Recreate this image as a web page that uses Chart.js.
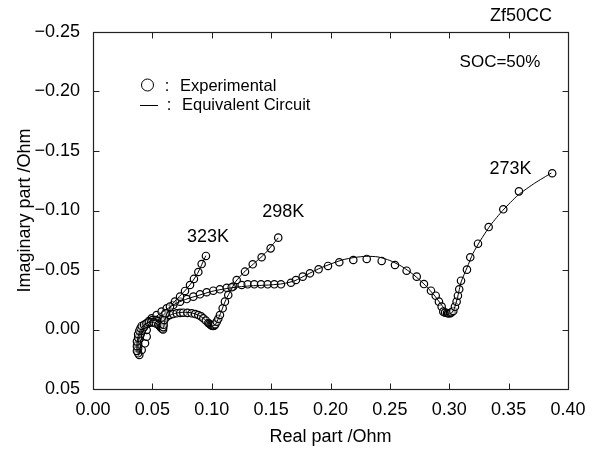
<!DOCTYPE html>
<html><head><meta charset="utf-8">
<script src="https://cdn.jsdelivr.net/npm/chart.js@4.4.1/dist/chart.umd.min.js"></script>
<style>html,body{margin:0;padding:0;background:#fff;}</style>
</head><body>
<canvas id="c" width="599" height="450"></canvas>
<script>
// ---- data (Real part, Imaginary part) in Ohm ----
const exp323 = [[0.037,0.018],[0.037,0.014],[0.037,0.010],[0.038,0.007],[0.038,0.004],[0.039,0.001],[0.040,-0.001],[0.041,-0.003],[0.043,-0.004],[0.045,-0.005],[0.047,-0.006],[0.049,-0.006],[0.051,-0.006],[0.053,-0.005],[0.055,-0.004],[0.056,-0.003],[0.057,-0.002],[0.0575,-0.0015],[0.058,-0.001],[0.0585,-0.0005],[0.059,0.000],[0.0592,-0.002],[0.0595,-0.004],[0.060,-0.008],[0.061,-0.0136],[0.0648,-0.0192],[0.069,-0.0235],[0.0733,-0.0276],[0.0775,-0.0324],[0.0817,-0.0374],[0.085,-0.0425],[0.0887,-0.0483],[0.0915,-0.055],[0.0951,-0.0618]];
const exp298 = [[0.038,0.020],[0.038,0.016],[0.038,0.012],[0.039,0.008],[0.040,0.004],[0.041,0.001],[0.043,-0.002],[0.045,-0.005],[0.047,-0.007],[0.050,-0.008],[0.053,-0.008],[0.055,-0.007],[0.057,-0.006],[0.058,-0.0055],[0.0595,-0.007],[0.0606,-0.0094],[0.0625,-0.011],[0.0648,-0.0122],[0.0675,-0.013],[0.0705,-0.0136],[0.0735,-0.014],[0.076,-0.0141],[0.0795,-0.014],[0.0831,-0.0136],[0.086,-0.013],[0.0887,-0.0122],[0.091,-0.011],[0.0929,-0.0094],[0.095,-0.0075],[0.0971,-0.0055],[0.098,-0.0048],[0.099,-0.004],[0.0998,-0.0035],[0.1005,-0.0032],[0.1013,-0.003],[0.102,-0.0032],[0.1025,-0.0038],[0.103,-0.0045],[0.1042,-0.0066],[0.1055,-0.009],[0.1069,-0.0122],[0.1092,-0.0178],[0.1111,-0.0234],[0.1139,-0.029],[0.1168,-0.0355],[0.121,-0.0416],[0.128,-0.0486],[0.1345,-0.0548],[0.142,-0.0607],[0.1496,-0.0682],[0.156,-0.0772]];
const exp273 = [[0.039,0.0214],[0.041,0.0172],[0.0438,0.0116],[0.0452,0.006],[0.0452,0.0004],[0.0466,-0.0052],[0.0494,-0.0094],[0.0536,-0.0122],[0.0578,-0.015],[0.0621,-0.0178],[0.0676,-0.0206],[0.0733,-0.0234],[0.0789,-0.0256],[0.0845,-0.0276],[0.0901,-0.0296],[0.0957,-0.0313],[0.1013,-0.0326],[0.1069,-0.0338],[0.1126,-0.0351],[0.1181,-0.0361],[0.1252,-0.0374],[0.1303,-0.038],[0.1358,-0.038],[0.1415,-0.038],[0.1471,-0.038],[0.1527,-0.038],[0.1583,-0.038],[0.1667,-0.0393],[0.1709,-0.0416],[0.1766,-0.0444],[0.1827,-0.0472],[0.19,-0.0506],[0.1979,-0.0534],[0.2074,-0.0565],[0.2192,-0.0584],[0.2305,-0.0593],[0.2431,-0.0576],[0.2543,-0.0542],[0.2641,-0.0494],[0.2726,-0.0444],[0.2787,-0.0382],[0.2846,-0.0326],[0.2886,-0.0284],[0.2913,-0.0234],[0.2936,-0.0192],[0.295,-0.015],[0.2965,-0.0142],[0.2981,-0.0139],[0.299,-0.0137],[0.2995,-0.0136],[0.3006,-0.0136],[0.3012,-0.014],[0.302,-0.0145],[0.3034,-0.0156],[0.3048,-0.0192],[0.3062,-0.0234],[0.3073,-0.0284],[0.3084,-0.0338],[0.3099,-0.041],[0.3149,-0.0503],[0.3177,-0.0607],[0.3242,-0.0721],[0.3332,-0.0861],[0.3455,-0.101],[0.3587,-0.1161],[0.3867,-0.1313]];
const fit323 = [[0.037,0.019],[0.037,0.012],[0.038,0.006],[0.040,0.000],[0.043,-0.004],[0.047,-0.006],[0.051,-0.006],[0.055,-0.004],[0.058,-0.001],[0.0595,-0.002],[0.061,-0.010],[0.065,-0.019],[0.070,-0.025],[0.076,-0.031],[0.082,-0.038],[0.088,-0.047],[0.095,-0.062]];
const fit298 = [[0.038,0.021],[0.038,0.012],[0.039,0.006],[0.041,0.001],[0.044,-0.004],[0.048,-0.007],[0.052,-0.008],[0.056,-0.007],[0.059,-0.007],[0.062,-0.010],[0.066,-0.0125],[0.071,-0.014],[0.077,-0.0145],[0.083,-0.014],[0.089,-0.012],[0.094,-0.0085],[0.098,-0.005],[0.101,-0.003],[0.103,-0.004],[0.105,-0.008],[0.108,-0.015],[0.111,-0.023],[0.115,-0.031],[0.120,-0.040],[0.127,-0.048],[0.135,-0.055],[0.145,-0.064],[0.156,-0.077]];
const fit273 = [[0.0385,0.022],[0.040,0.014],[0.042,0.008],[0.044,0.002],[0.047,-0.004],[0.051,-0.009],[0.056,-0.013],[0.062,-0.017],[0.070,-0.022],[0.080,-0.026],[0.090,-0.029],[0.100,-0.032],[0.110,-0.034],[0.120,-0.0355],[0.130,-0.0365],[0.140,-0.037],[0.150,-0.0375],[0.160,-0.0385],[0.170,-0.041],[0.180,-0.046],[0.190,-0.051],[0.200,-0.055],[0.210,-0.0585],[0.220,-0.0605],[0.230,-0.0615],[0.240,-0.061],[0.250,-0.058],[0.260,-0.053],[0.270,-0.046],[0.280,-0.037],[0.288,-0.028],[0.294,-0.020],[0.298,-0.015],[0.301,-0.013],[0.304,-0.017],[0.307,-0.027],[0.310,-0.040],[0.315,-0.052],[0.320,-0.064],[0.327,-0.076],[0.335,-0.088],[0.345,-0.100],[0.358,-0.113],[0.372,-0.123],[0.386,-0.1315]];
const seriesNames = ['323K','298K','273K'];
const seriesLabelAt = [[0.0968,-0.078],[0.1603,-0.0988],[0.3515,-0.135]];
const xTickLabels = ['0.00','0.05','0.10','0.15','0.20','0.25','0.30','0.35','0.40'];
const yTickLabels = ['\u22120.25','\u22120.20','\u22120.15','\u22120.10','\u22120.05','0.00','0.05'];
const xTitle = 'Real part /Ohm';
const yTitle = 'Imaginary part /Ohm';
const legendTexts = ['Experimental','Equivalent Circuit'];
const cornerTexts = ['Zf50CC','SOC=50%'];

const FONT = '"Liberation Sans", Arial, sans-serif';
const INK = '#000';
const toPts = a => a.map(p => ({x:p[0], y:p[1]}));

const expSets = [exp323, exp298, exp273].map((d,i) => ({
  label: seriesNames[i] + ' exp', data: toPts(d), showLine:false, order:2,
  pointRadius:3.7, pointBorderWidth:1.2, pointBorderColor:INK, pointBackgroundColor:'rgba(255,255,255,0.5)', pointStyle:'circle'
}));
const fitSets = [fit323, fit298, fit273].map((d,i) => ({
  label: seriesNames[i] + ' fit', data: toPts(d), showLine:true, order:1,
  pointRadius:0, borderColor:INK, borderWidth:1, tension:0.2, fill:false
}));

const decor = {
  id:'decor',
  afterDraw(chart){
    const {ctx, chartArea:a, scales:{x,y}} = chart;
    ctx.save();
    ctx.strokeStyle = '#222'; ctx.lineWidth = 1.2;
    const L=Math.round(a.left)+0.5, R=Math.round(a.right)+0.5, T=Math.round(a.top)+0.5, B=Math.round(a.bottom)+0.5;
    ctx.strokeRect(L, T, R-L, B-T);
    ctx.lineWidth = 1;
    ctx.beginPath();
    x.ticks.forEach(t => { const px = Math.round(x.getPixelForValue(t.value))+0.5;
      ctx.moveTo(px,B); ctx.lineTo(px,B-6); ctx.moveTo(px,T); ctx.lineTo(px,T+6); });
    y.ticks.forEach(t => { const py = Math.round(y.getPixelForValue(t.value))+0.5;
      ctx.moveTo(L,py); ctx.lineTo(L+6,py); ctx.moveTo(R,py); ctx.lineTo(R-6,py); });
    ctx.stroke();
    ctx.fillStyle = INK; ctx.strokeStyle = INK;
    ctx.textAlign='center'; ctx.textBaseline='middle';
    ctx.font = '18px ' + FONT;
    seriesNames.forEach((n,i) => ctx.fillText(n, x.getPixelForValue(seriesLabelAt[i][0]), y.getPixelForValue(seriesLabelAt[i][1])));
    ctx.fillText(cornerTexts[0], 521, 16);
    ctx.font = '17px ' + FONT;
    ctx.fillText(cornerTexts[1], 500, 62);
    // legend
    ctx.beginPath(); ctx.arc(147.5, 85, 6, 0, Math.PI*2); ctx.stroke();
    ctx.beginPath(); ctx.moveTo(140, 105.5); ctx.lineTo(158, 105.5); ctx.stroke();
    ctx.font = '16.5px ' + FONT;
    ctx.fillText(':', 167, 86); ctx.fillText(':', 169, 105);
    ctx.textAlign='left';
    ctx.fillText(legendTexts[0], 180, 86);
    ctx.fillText(legendTexts[1], 182, 105);
    ctx.restore();
  }
};

new Chart(document.getElementById('c'), {
  type:'scatter',
  data:{ datasets:[...fitSets, ...expSets] },
  options:{
    responsive:false, animation:false, devicePixelRatio:1,
    layout:{ padding:{top:32, right:31, left:0, bottom:0} },
    plugins:{ legend:{display:false}, tooltip:{enabled:false} },
    scales:{
      x:{ type:'linear', min:0, max:0.4,
        afterFit(s){ s.height = 61; },
        afterBuildTicks(s){ s.ticks = xTickLabels.map(v => ({value:parseFloat(v)})); },
        ticks:{ callback:(v,i) => xTickLabels[i], color:INK, font:{family:FONT, size:18}, padding:10, maxRotation:0, autoSkip:false },
        grid:{ display:false, drawTicks:false }, border:{display:false},
        title:{ display:true, text:xTitle, color:INK, font:{family:FONT, size:18}, padding:{top:0,bottom:2} } },
      y:{ type:'linear', min:-0.25, max:0.05, reverse:true,
        afterFit(s){ s.width = 93; },
        afterBuildTicks(s){ s.ticks = yTickLabels.map(v => ({value:parseFloat(v.replace('\u2212','-'))})); },
        ticks:{ callback:(v,i) => yTickLabels[i], color:INK, font:{family:FONT, size:18}, padding:13, autoSkip:false },
        grid:{ display:false, drawTicks:false }, border:{display:false},
        title:{ display:true, text:yTitle, color:INK, font:{family:FONT, size:18}, padding:{top:14,bottom:0} } }
    }
  },
  plugins:[decor]
});
</script>
</body></html>
